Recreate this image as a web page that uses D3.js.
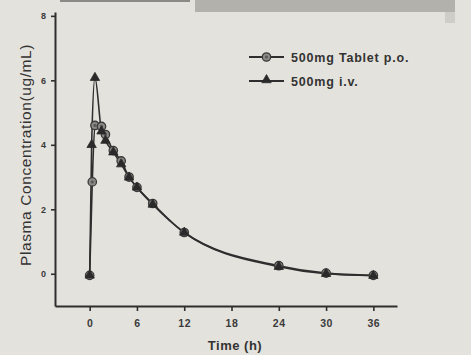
<!DOCTYPE html>
<html>
<head>
<meta charset="utf-8">
<script src="https://cdn.jsdelivr.net/npm/d3@7"></script>
<style>
  html, body { margin: 0; padding: 0; background: #e4e2dd; }
  svg { display: block; }
</style>
</head>
<body>
<svg id="chart" width="471" height="355"></svg>
<script>
// ---- data ----
const seriesNames = ["500mg Tablet p.o.", "500mg i.v."];
const timesPO = [0, 0.33, 0.67, 1.5, 2, 3, 4, 5, 6, 8, 12, 24, 30, 36];
const valuesPO = [-0.05, 2.85, 4.6, 4.57, 4.32, 3.82, 3.5, 3.0, 2.68, 2.18, 1.28, 0.25, 0.02, -0.05];
const timesIV = [0, 0.25, 0.67, 1.5, 2, 3, 4, 5, 6, 8, 12, 24, 30, 36];
const valuesIV = [-0.05, 4.0, 6.08, 4.42, 4.13, 3.77, 3.4, 2.99, 2.68, 2.15, 1.28, 0.22, 0.0, -0.06];
const xTicks = [0, 6, 12, 18, 24, 30, 36];
const yTicks = [0, 2, 4, 6, 8];
const xTitle = "Time (h)";
const yTitle = "Plasma Concentration(ug/mL)";

// ---- layout ----
const svg = d3.select("#chart");
const ink = "#2e2e2e";
const font = "Liberation Sans, Arial, sans-serif";

// scan artefact band at top
svg.append("rect").attr("x", 195).attr("y", 0).attr("width", 260).attr("height", 12).attr("fill", "#b3b1ab");
svg.append("rect").attr("x", 445).attr("y", 12).attr("width", 10).attr("height", 11).attr("fill", "#cfcdc8");
svg.append("rect").attr("x", 60).attr("y", 0).attr("width", 130).attr("height", 2).attr("fill", "#8a8a87");

const x = d3.scaleLinear().domain([-4.4, 39]).range([55, 397]);
const y = d3.scaleLinear().domain([-1, 8.12]).range([306, 12]);

const xAxis = svg.append("g")
  .attr("transform", `translate(0,${306})`)
  .call(d3.axisBottom(x).tickValues(xTicks).tickSize(5).tickSizeOuter(0).tickPadding(9));
const yAxis = svg.append("g")
  .attr("transform", `translate(55,0)`)
  .call(d3.axisLeft(y).tickValues(yTicks).tickSize(4).tickSizeOuter(0).tickPadding(5));

[xAxis, yAxis].forEach(g => {
  g.select(".domain").attr("stroke", ink).attr("stroke-width", 2);
  g.selectAll(".tick line").attr("stroke", ink).attr("stroke-width", 1.6);
  g.selectAll(".tick text")
    .attr("fill", "#3a3a3a")
    .attr("font-family", font)
    .attr("font-weight", "bold")
    .attr("font-size", 10.5)
    .attr("letter-spacing", 0.6);
});
yAxis.selectAll(".tick text").attr("font-size", 9).attr("letter-spacing", 0);

// titles
svg.append("text")
  .attr("x", 235).attr("y", 350)
  .attr("text-anchor", "middle")
  .attr("font-family", font)
  .attr("font-weight", "bold")
  .attr("font-size", 13)
  .attr("letter-spacing", 0.5)
  .attr("fill", "#333")
  .text(xTitle);

svg.append("text")
  .attr("transform", "translate(31,155) rotate(-90)")
  .attr("text-anchor", "middle")
  .attr("font-family", font)
  .attr("font-size", 15.5)
  .attr("letter-spacing", 0.6)
  .attr("fill", "#333")
  .text(yTitle);

// lines
const line = d3.line().x(d => x(d[0])).y(d => y(d[1])).curve(d3.curveMonotoneX);
const dataPO = timesPO.map((t, i) => [t, valuesPO[i]]);
const dataIV = timesIV.map((t, i) => [t, valuesIV[i]]);

svg.append("path").datum(dataPO).attr("d", line)
  .attr("fill", "none").attr("stroke", ink).attr("stroke-width", 1.6);
svg.append("path").datum(dataIV).attr("d", line)
  .attr("fill", "none").attr("stroke", ink).attr("stroke-width", 1.6);

const tri = d3.symbol().type(d3.symbolTriangle).size(38);

function drawCircle(g, cx, cy) {
  g.append("circle").attr("cx", cx).attr("cy", cy).attr("r", 4.2)
    .attr("fill", "#8a8986").attr("stroke", "#3a3a3a").attr("stroke-width", 1.3);
  g.append("circle").attr("cx", cx).attr("cy", cy).attr("r", 1.6)
    .attr("fill", "#5a5a58");
}
function drawTri(g, cx, cy) {
  g.append("path").attr("d", tri).attr("transform", `translate(${cx},${cy})`)
    .attr("fill", "#2a2a2a").attr("stroke", "#2a2a2a").attr("stroke-width", 0.8);
}

const marks = svg.append("g");
dataPO.forEach(d => drawCircle(marks, x(d[0]), y(d[1])));
dataIV.forEach(d => drawTri(marks, x(d[0]), y(d[1])));

// legend
const legend = svg.append("g");
[0, 1].forEach(i => {
  const ly = 57 + i * 24;
  legend.append("line").attr("x1", 249).attr("x2", 284).attr("y1", ly).attr("y2", ly)
    .attr("stroke", ink).attr("stroke-width", 2);
  if (i === 0) drawCircle(legend, 266.5, ly); else drawTri(legend, 266.5, ly - 1);
  legend.append("text")
    .attr("x", 291).attr("y", ly + 4.5)
    .attr("font-family", font)
    .attr("font-weight", "bold")
    .attr("font-size", 12.5)
    .attr("letter-spacing", 0.8)
    .attr("fill", "#333")
    .text(seriesNames[i]);
});
</script>
</body>
</html>
